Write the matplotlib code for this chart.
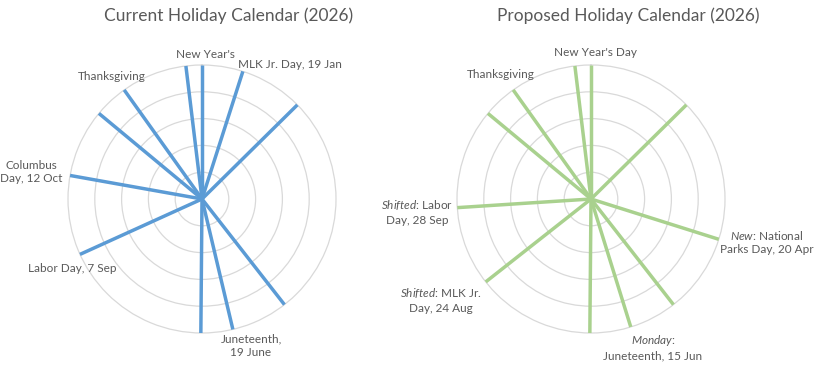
import numpy as np
import pandas as pd
import matplotlib
matplotlib.use("Agg")
import matplotlib.pyplot as plt

plt.rcParams['font.family'] = ['Lato', 'DejaVu Sans']
plt.rcParams['mathtext.fontset'] = 'custom'
plt.rcParams['mathtext.rm'] = 'Lato'
plt.rcParams['mathtext.it'] = 'Lato:italic'

# ---------------- data ----------------
current_names = ["New Year's Day", "MLK Jr. Day", "Presidents' Day", "Memorial Day",
                 "Juneteenth", "Independence Day", "Labor Day", "Columbus Day",
                 "Veterans Day", "Thanksgiving", "Christmas Day"]
current_dates = ["2026-01-01", "2026-01-19", "2026-02-16", "2026-05-25",
                 "2026-06-19", "2026-07-03", "2026-09-07", "2026-10-12",
                 "2026-11-11", "2026-11-26", "2026-12-25"]

proposed_names = ["New Year's Day", "Presidents' Day", "National Parks Day", "Memorial Day",
                  "Juneteenth", "Independence Day", "MLK Jr. Day", "Labor Day",
                  "Veterans Day", "Thanksgiving", "Christmas Day"]
proposed_dates = ["2026-01-01", "2026-02-16", "2026-04-20", "2026-05-25",
                  "2026-06-15", "2026-07-03", "2026-08-24", "2026-09-28",
                  "2026-11-11", "2026-11-26", "2026-12-25"]

spoke_length = 5
ring_values = [1, 2, 3, 4, 5]
days_in_year = 365

titles = ["Current Holiday Calendar (2026)", "Proposed Holiday Calendar (2026)"]

current_labels = ["New Year's", "MLK Jr. Day, 19 Jan", "Thanksgiving",
                  "Columbus\nDay, 12 Oct", "Labor Day, 7 Sep", "Juneteenth,\n19 June"]
proposed_labels = ["New Year's Day", "Thanksgiving",
                   r"$\mathit{Shifted}$: Labor" + "\nDay, 28 Sep",
                   r"$\mathit{Shifted}$: MLK Jr." + "\nDay, 24 Aug",
                   r"$\mathit{New}$: National" + "\nParks Day, 20 Apr",
                   r"$\mathit{Monday}$:" + "\nJuneteenth, 15 Jun"]

# label positions (figure pixels, from top-left)
current_label_pos = [(205, 54), (290, 64), (112, 76), (31, 172), (72, 268), (251, 346)]
proposed_label_pos = [(595, 53), (501, 75), (417, 212), (441, 300), (767, 242), (653, 347)]

W, H = 816, 373
fig = plt.figure(figsize=(W / 100, H / 100), dpi=100)

text_color = '#595959'
grid_color = '#D9D9D9'


def px(x, y):
    return x / W, 1 - y / H


def make_axes(cx, cy, r):
    ax = fig.add_axes([(cx - r) / W, (H - cy - r) / H, 2 * r / W, 2 * r / H],
                      projection='polar')
    ax.set_theta_zero_location('N')
    ax.set_theta_direction(-1)
    ax.set_ylim(0, spoke_length)
    ax.set_rgrids(ring_values, labels=[])
    ax.set_thetagrids([], labels=[])
    ax.grid(True, color=grid_color, linewidth=0.9)
    ax.spines['polar'].set_visible(False)
    ax.set_facecolor('none')
    for gl in ax.yaxis.get_gridlines():
        gl.set_clip_on(False)
    return ax


def draw(ax, dates, color):
    doy = pd.to_datetime(pd.Series(dates)).dt.dayofyear.to_numpy() - 1
    theta = doy / days_in_year * 2 * np.pi
    for t in theta:
        ax.plot([t, t], [0, spoke_length], color=color, linewidth=2.5,
                solid_capstyle='butt', clip_on=False, zorder=3)


ax1 = make_axes(202, 199, 134)
draw(ax1, current_dates, '#5B9BD5')
ax2 = make_axes(591, 199, 134)
draw(ax2, proposed_dates, '#A9D18E')

fig.text(*px(229, 16), titles[0], ha='center', va='center', fontsize=12.5, color=text_color)
fig.text(*px(628, 16), titles[1], ha='center', va='center', fontsize=12.5, color=text_color)

for lab, (x, y) in zip(current_labels, current_label_pos):
    fig.text(*px(x, y), lab, ha='center', va='center', fontsize=8.5,
             color=text_color, multialignment='center', linespacing=1.25)
for lab, (x, y) in zip(proposed_labels, proposed_label_pos):
    fig.text(*px(x, y), lab, ha='center', va='center', fontsize=8.5,
             color=text_color, multialignment='center', linespacing=1.25)

fig.savefig('out.png', dpi=100)
